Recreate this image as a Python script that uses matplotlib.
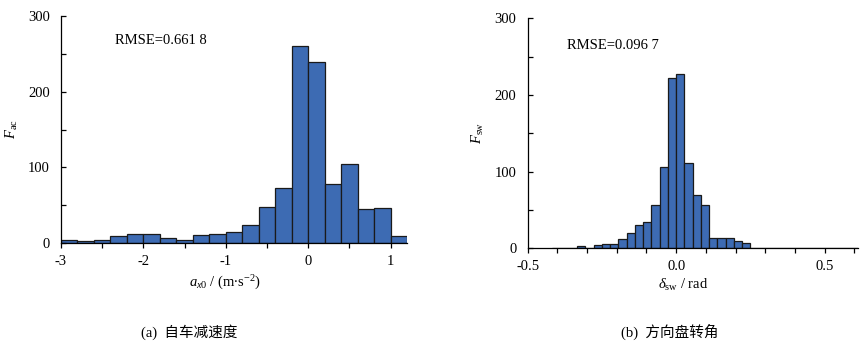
import numpy as np
import matplotlib
matplotlib.use("Agg")
import matplotlib.pyplot as plt
from matplotlib.ticker import MultipleLocator

plt.rcParams["font.family"] = ["Liberation Serif", "Noto Sans CJK SC"]
plt.rcParams["mathtext.fontset"] = "custom"
plt.rcParams["mathtext.rm"] = "Liberation Serif"
plt.rcParams["mathtext.it"] = "Liberation Serif:italic"
plt.rcParams["font.size"] = 10.5
plt.rcParams["axes.unicode_minus"] = False

# (a) ego vehicle deceleration, bins of 0.2 m/s^2 from -3.0 to 1.2
acc_edges = [-3.0, -2.8, -2.6, -2.4, -2.2, -2.0, -1.8, -1.6, -1.4, -1.2, -1.0,
             -0.8, -0.6, -0.4, -0.2, 0.0, 0.2, 0.4, 0.6, 0.8, 1.0, 1.2]
acc_counts = [4, 3, 4, 9, 12, 12, 7, 4, 11, 12, 15,
              24, 48, 73, 261, 239, 78, 104, 45, 46, 9]
acc_rmse = "RMSE=0.661 8"

# (b) steering wheel angle, bin width 0.0278 rad, bins k = -15 .. 21
sw_width = 0.0278
sw_bin_index = np.arange(-15, 22)
sw_counts = [1, 1, 0, 3, 1, 4, 6, 6, 12, 20, 30, 34, 57, 106, 222,
             228, 111, 69, 56, 14, 13, 14, 9, 7, 1, 1, 1, 0, 0, 0,
             1, 0, 0, 0, 0, 0, 1]
sw_rmse = "RMSE=0.096 7"

BAR = "#3d6bb3"
W, H = 867, 350

fig = plt.figure(figsize=(W / 100, H / 100), dpi=100)


def px_axes(l, t, r, b):
    return fig.add_axes([l / W, 1 - b / H, (r - l) / W, (b - t) / H])


def style(ax):
    for s in ("top", "right"):
        ax.spines[s].set_visible(False)
    for s in ("left", "bottom"):
        ax.spines[s].set_linewidth(0.9)
    ax.tick_params(axis="y", which="both", direction="in", length=3.5,
                   width=0.9, pad=8)
    ax.tick_params(axis="x", which="both", direction="out", length=3.5,
                   width=0.9, pad=5)
    ax.set_ylim(0, 300)
    ax.yaxis.set_major_locator(MultipleLocator(100))
    ax.yaxis.set_minor_locator(MultipleLocator(50))


ax1 = px_axes(61, 16, 407, 243)
left = np.array(acc_edges[:-1])
ax1.bar(left, acc_counts, width=np.diff(acc_edges), align="edge",
        color=BAR, edgecolor="#1a1a1a", linewidth=0.9)
ax1.set_xlim(acc_edges[0], acc_edges[-1])
style(ax1)
ax1.xaxis.set_major_locator(MultipleLocator(1))
ax1.xaxis.set_minor_locator(MultipleLocator(0.5))
ax1.text(-2.35, 268, acc_rmse, ha="left", va="center")
ax1.set_ylabel(r"$F_{\mathrm{ac}}$")
ax1.yaxis.set_label_coords(-41 / 346, 0.5)

ax2 = px_axes(527.7, 18.3, 857.7, 248.3)
sw_left = sw_bin_index * sw_width
ax2.bar(sw_left, sw_counts, width=sw_width, align="edge",
        color=BAR, edgecolor="#1a1a1a", linewidth=0.9)
ax2.set_xlim(-0.5, (sw_bin_index[-1] + 1) * sw_width)
style(ax2)
ax2.xaxis.set_major_locator(MultipleLocator(0.5))
ax2.xaxis.set_minor_locator(MultipleLocator(0.1))
ax2.xaxis.set_major_formatter(lambda v, p: f"{v:.1f}")
ax2.text(-0.368, 265, sw_rmse, ha="left", va="center")
ax2.set_ylabel(r"$F_{\mathrm{sw}}$")
ax2.yaxis.set_label_coords(-42 / 330, 0.5)

fig.text(225 / W, 1 - 283 / H, r"$a_{x\mathrm{0}}$ / (m$\bullet$s$^{-2}$)",
         ha="center", va="center")
fig.text(683 / W, 1 - 285 / H, r"$\delta_{\mathrm{sw}}$ / rad",
         ha="center", va="center")

fig.text(189 / W, 1 - 332 / H, "(a)  自车减速度", ha="center", va="center")
fig.text(670 / W, 1 - 332 / H, "(b)  方向盘转角", ha="center", va="center")

fig.savefig("out.png", dpi=100)
